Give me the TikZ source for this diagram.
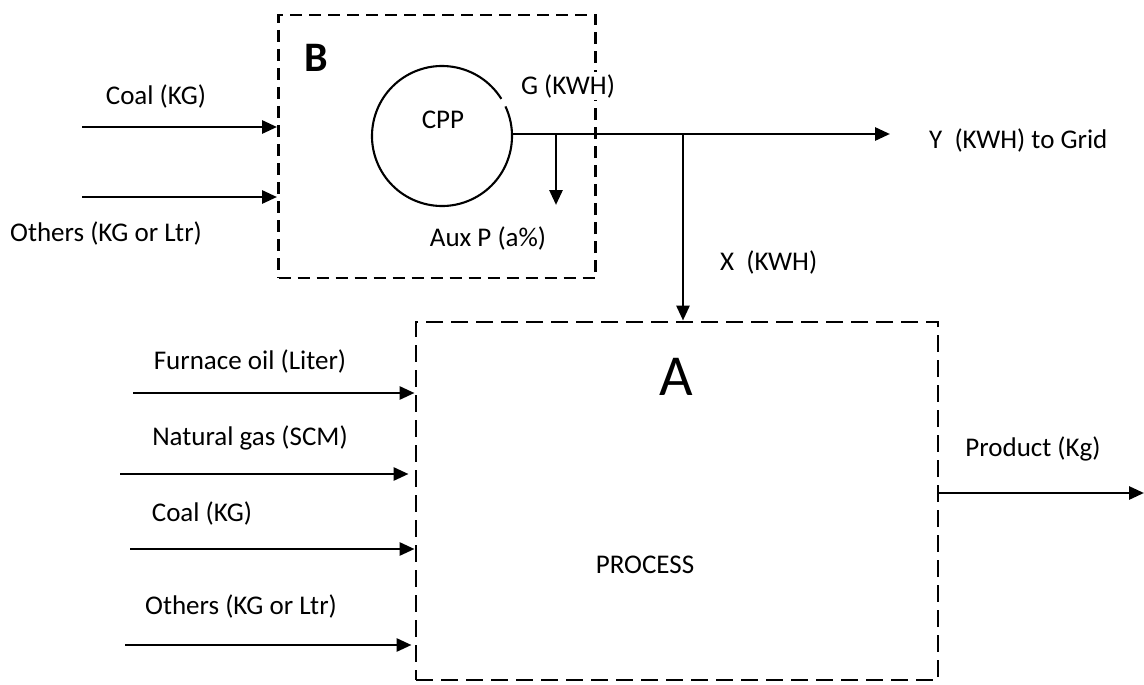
\documentclass[tikz,border=0pt]{standalone}
\usepackage{fontspec}
\setmainfont{Carlito}
\usetikzlibrary{arrows.meta}
\begin{document}
\begin{tikzpicture}[x=1pt,y=-1pt,
  lbl/.style={font=\fontsize{27}{30}\selectfont, inner sep=0pt},
  flow/.style={line width=2.8pt, -{Triangle[length=15pt,width=13pt]}},
  dbox/.style={draw, line width=2.9pt, dash pattern=on 12pt off 7pt, inner sep=0pt},
  dboxlong/.style={dbox, dash pattern=on 17pt off 8pt}]
\useasboundingbox[fill=white] (0,0) rectangle (1144,685);

% Box B (captive power plant)
\node[dbox, minimum width=317pt, minimum height=263pt] (B) at (437,146.5) {};
\node[font=\fontsize{42}{46}\selectfont\bfseries, inner sep=0pt] (Blbl) at (316,58) {B};
\node[circle, minimum size=140pt, inner sep=0pt] (cpp) at (442,136) {};
\draw[line width=2.1pt] (cpp.center) ++(-25:70) arc[start angle=-25, end angle=328, radius=70];
\node[lbl] (cpplbl) at (443,120) {CPP};
\node[lbl, fill=white, inner sep=2pt] (glbl) at (568,86) {G (KWH)};
\node[lbl] (auxlbl) at (488,238) {Aux P (a\%)};

\coordinate (c0) at (512,134);
\coordinate (j1) at (556,134);
\coordinate (j2) at (683,134);
\coordinate (gridend) at (890,134);
\coordinate (auxend) at (556,205);
\node[lbl, anchor=west] (ylbl) at (929,140) {Y\ \ (KWH) to Grid};
\node[lbl, anchor=west] (xlbl) at (720,262) {X\ \ (KWH)};

\draw[flow] (c0) -- (gridend);
\draw[flow] (j1) -- (auxend);

% inputs to B
\coordinate (bin1) at (82,127);
\coordinate (bin2) at (82,197);
\node[lbl] (bl1) at (156,96) {Coal (KG)};
\node[lbl] (bl2) at (106,233) {Others (KG or Ltr)};
\draw[flow] (bin1) -- (bin1 -| B.west);
\draw[flow] (bin2) -- (bin2 -| B.west);

% Box A (process)
\node[dboxlong, minimum width=522pt, minimum height=358pt] (A) at (677,501) {};
\node[font=\fontsize{58}{62}\selectfont, inner sep=0pt] (Albl) at (676,377) {A};
\node[lbl] (proc) at (645,565) {PROCESS};
\draw[flow] (j2) -- (j2 |- A.north);

% inputs to A
\coordinate (ain1) at (133,393);
\coordinate (ain2) at (120,474);
\coordinate (ain3) at (130,549);
\coordinate (ain4) at (125,645);
\node[lbl] (al1) at (250,361) {Furnace oil (Liter)};
\node[lbl] (al2) at (250,438) {Natural gas (SCM)};
\node[lbl] (al3) at (202,513) {Coal (KG)};
\node[lbl] (al4) at (241,606) {Others (KG or Ltr)};
\draw[flow] (ain1) -- (ain1 -| A.west);
\draw[flow] (ain2) -- ([xshift=-6pt]ain2 -| A.west);
\draw[flow] (ain3) -- (ain3 -| A.west);
\draw[flow] (ain4) -- ([xshift=-3pt]ain4 -| A.west);

% output
\coordinate (pout) at (1144,493);
\node[lbl] (pl) at (1033,449) {Product (Kg)};
\draw[flow] (pout -| A.east) -- (pout);
\end{tikzpicture}
\end{document}
